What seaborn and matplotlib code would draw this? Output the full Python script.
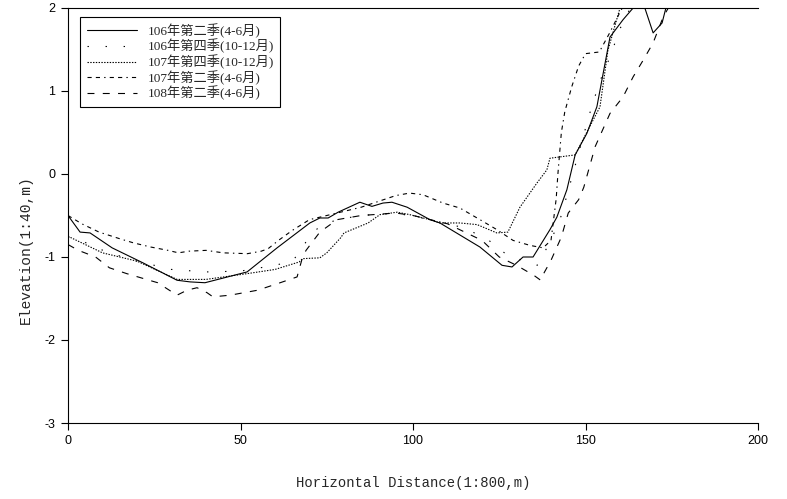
import matplotlib
matplotlib.use("Agg")
import matplotlib.pyplot as plt
import seaborn as sns
import pandas as pd

labels = ["106年第二季(4-6月)", "106年第四季(10-12月)", "107年第四季(10-12月)",
          "107年第二季(4-6月)", "108年第二季(4-6月)"]

s1_x = [0, 3.5, 6.4, 12.8, 21.7, 31.6, 35.4, 39.7, 51.9, 60.6, 70.1, 73, 75.4, 78.3, 84.6, 88.1, 91.3, 93.9,
        98.3, 104.9, 107.8, 119.4, 125.8, 128.7, 131.9, 134.8, 139.7, 141.7, 144.6, 147, 150.4, 153.3, 157.1,
        160.9, 163.8, 166, 169.6, 172.2, 173.3, 174]
s1_y = [-0.5, -0.7, -0.71, -0.89, -1.07, -1.28, -1.3, -1.31, -1.18, -0.89, -0.59, -0.53, -0.53, -0.46, -0.34,
        -0.39, -0.35, -0.34, -0.4, -0.55, -0.59, -0.88, -1.1, -1.12, -1.0, -1.0, -0.67, -0.52, -0.19, 0.23, 0.49,
        0.81, 1.65, 1.86, 2.0, 2.15, 1.7, 1.82, 2.0, 2.1]

s2_x = [0, 4, 6.5, 12, 20, 30, 40, 50, 60, 65, 67, 70, 73, 78, 85, 95, 105, 115, 122, 128, 133, 136, 140, 143,
        145, 147, 149, 151, 154, 157, 160, 163]
s2_y = [-0.76, -0.8, -0.86, -0.95, -1.05, -1.15, -1.18, -1.17, -1.1, -1.05, -0.95, -0.75, -0.63, -0.55, -0.5,
        -0.47, -0.55, -0.65, -0.8, -1.0, -1.05, -1.1, -0.8, -0.5, -0.2, 0.1, 0.4, 0.7, 1.1, 1.4, 1.75, 2.0]

s3_x = [0, 5, 10, 20, 31.6, 40, 52, 60, 67, 68, 73, 75, 79, 80, 87, 90.4, 95.4, 99.1, 104.9, 107.8, 113.6,
        118.6, 124.3, 127.5, 131, 135.9, 138.8, 139.7, 147, 154.2, 156.5, 160]
s3_y = [-0.75, -0.85, -0.95, -1.05, -1.27, -1.27, -1.2, -1.15, -1.06, -1.02, -1.01, -0.95, -0.77, -0.71, -0.59,
        -0.49, -0.46, -0.49, -0.55, -0.59, -0.59, -0.61, -0.71, -0.7, -0.4, -0.11, 0.05, 0.19, 0.23, 0.81,
        1.49, 2.0]

s4_x = [0, 4, 9, 15, 19, 24, 29, 32, 35, 40, 45, 52, 56, 58, 61, 65, 70, 75, 80, 85, 90, 95, 99, 102.9, 108.7,
        113.6, 119.4, 124.3, 129, 133.9, 137.7, 140, 141.5, 142, 143, 144, 146, 148, 150, 154, 157, 160, 162]
s4_y = [-0.5, -0.6, -0.7, -0.78, -0.83, -0.88, -0.92, -0.95, -0.93, -0.92, -0.95, -0.96, -0.93, -0.9, -0.8,
        -0.68, -0.55, -0.5, -0.45, -0.4, -0.33, -0.26, -0.23, -0.25, -0.35, -0.41, -0.55, -0.67, -0.8, -0.86,
        -0.89, -0.8, -0.3, 0.0, 0.5, 0.75, 1.05, 1.3, 1.45, 1.47, 1.7, 1.95, 2.1]

s5_x = [0, 3, 8, 12, 17, 26, 31.6, 34.5, 37.4, 40.3, 42, 47, 55, 61.5, 66.4, 67.2, 68, 69, 73, 78, 85, 95, 100,
        110, 120, 125, 130, 135, 137, 138, 140, 143, 145, 148, 149.5, 152.8, 157.1, 160.9, 163.8, 166.7, 169.6,
        172.5, 174]
s5_y = [-0.85, -0.92, -1.0, -1.13, -1.2, -1.31, -1.46, -1.4, -1.37, -1.43, -1.48, -1.46, -1.4, -1.31, -1.24,
        -1.12, -1.0, -0.92, -0.7, -0.55, -0.5, -0.47, -0.5, -0.6, -0.8, -1.0, -1.1, -1.22, -1.28, -1.19, -1.04,
        -0.76, -0.47, -0.31, -0.16, 0.33, 0.73, 0.93, 1.17, 1.37, 1.58, 1.89, 2.0]

x_ticks = [0, 50, 100, 150, 200]
y_ticks = [-3, -2, -1, 0, 1, 2]

sns.set_style("ticks")
plt.rcParams['lines.scale_dashes'] = False

styles = ["-", (0, (1, 12)), (0, (1, 1)), (0, (3, 3, 3, 3, 1, 3)), (0, (5, 6))]
series = [(s1_x, s1_y), (s2_x, s2_y), (s3_x, s3_y), (s4_x, s4_y), (s5_x, s5_y)]

fig = plt.figure(figsize=(7.87, 4.99), dpi=100)
ax = fig.add_axes([68 / 787, 1 - 423 / 499, 690 / 787, 415 / 499])

for lab, (xs, ys), ls in zip(labels, series, styles):
    df = pd.DataFrame({"x": xs, "y": ys})
    sns.lineplot(data=df, x="x", y="y", ax=ax, sort=False, estimator=None, color="black",
                 linewidth=0.8, linestyle=ls, label=lab)

ax.set_xlim(0, 200)
ax.set_ylim(-3, 2)
ax.set_xticks(x_ticks)
ax.set_yticks(y_ticks)
ax.set_xticklabels([str(v) for v in x_ticks], family="Liberation Sans", fontsize=9)
ax.set_yticklabels([str(v) for v in y_ticks], family="Liberation Sans", fontsize=9)
ax.tick_params(direction="out", length=5, width=0.8, colors="black", pad=4)
for side in ["left", "bottom", "top"]:
    ax.spines[side].set_linewidth(0.8)
    ax.spines[side].set_color("black")
ax.spines["right"].set_visible(False)

ax.set_xlabel("Horizontal Distance(1:800,m)", family="Liberation Mono", fontsize=10)
ax.xaxis.set_label_coords(0.5, -(476 - 423) / 415)
ax.set_ylabel("Elevation(1:40,m)", family="Liberation Mono", fontsize=10.5)
ax.yaxis.set_label_coords(-(68 - 33) / 690, (423 - 250) / 415)

leg = ax.legend(loc="upper left", bbox_to_anchor=(12 / 690, 1 - 9 / 415), borderaxespad=0,
                frameon=True, fancybox=False,
                edgecolor="black", framealpha=1, handlelength=3.8, handletextpad=0.8, borderpad=0.5,
                labelspacing=0.08, prop={"family": ["Liberation Serif", "Noto Sans CJK TC"], "size": 9.5})
leg.get_frame().set_linewidth(0.8)

fig.savefig("out.png", dpi=100)
